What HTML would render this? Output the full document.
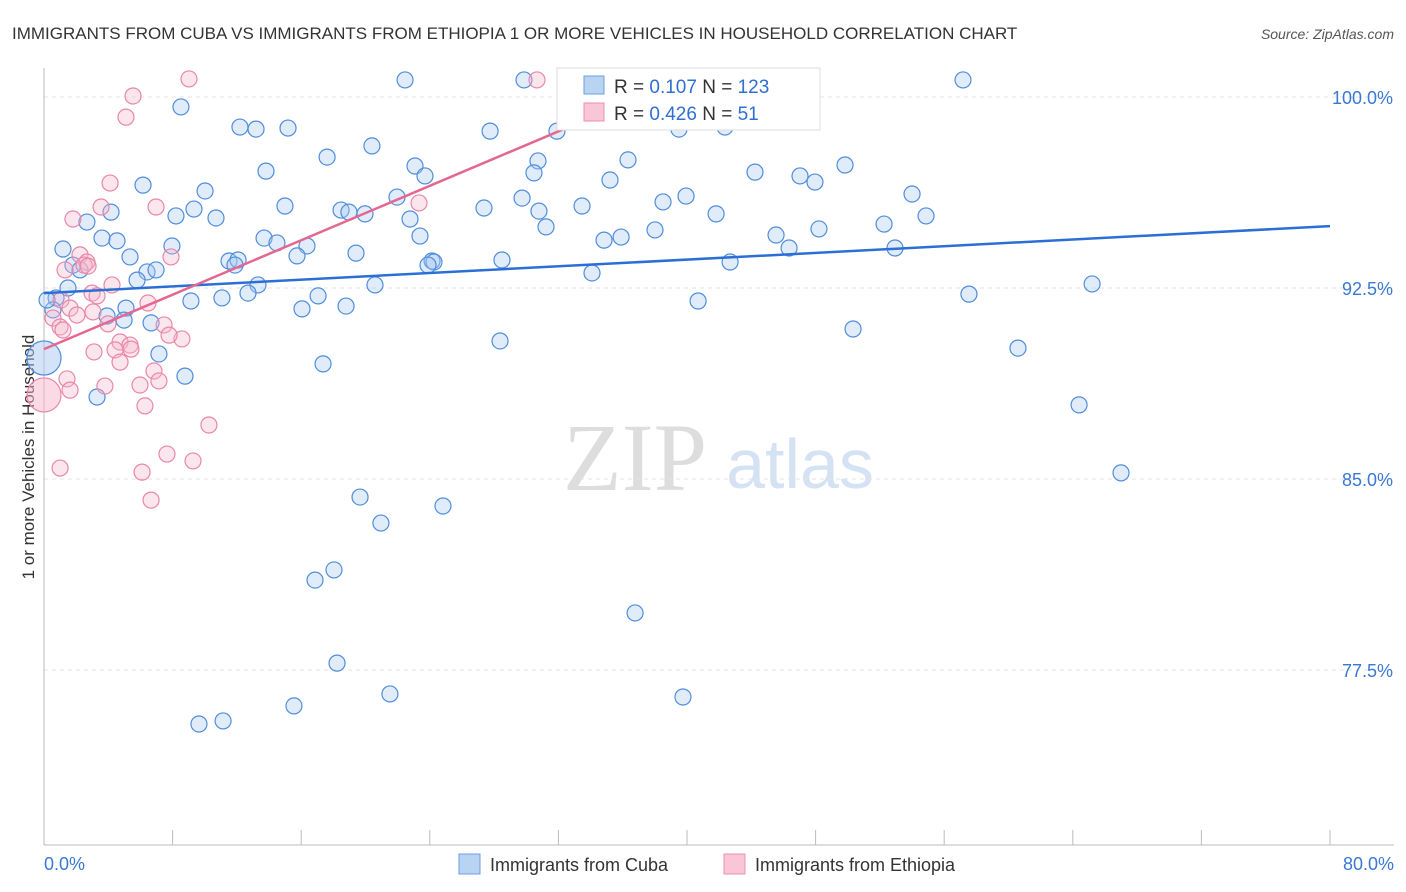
<!DOCTYPE html>
<html><head><meta charset="utf-8"><style>
body{margin:0;background:#fff;font-family:"Liberation Sans",sans-serif;}
svg{display:block}
</style></head><body>
<svg id="chart" width="1406" height="892">
<text x="12" y="39" font-size="17" fill="#333">IMMIGRANTS FROM CUBA VS IMMIGRANTS FROM ETHIOPIA 1 OR MORE VEHICLES IN HOUSEHOLD CORRELATION CHART</text>
<text x="1394" y="39" font-size="14" fill="#555" text-anchor="end" font-style="italic">Source: ZipAtlas.com</text>
<text x="34" y="457" font-size="17" fill="#333" text-anchor="middle" transform="rotate(-90 34 457)">1 or more Vehicles in Household</text>
<g><text x="635" y="490" font-size="96" fill="#ddd" font-family="Liberation Serif" text-anchor="middle">ZIP</text><text x="800" y="488" font-size="70" fill="#d4e2f4" text-anchor="middle">atlas</text></g>
<g id="grid"></g><g id="marks"></g><g id="trends"></g>
<g>
<rect x="557" y="68" width="263" height="62" fill="#fff" stroke="#ddd"/>
<rect x="584" y="76" width="20" height="18" fill="#b9d3f3" stroke="#6a9fe0"/>
<rect x="584" y="103" width="20" height="18" fill="#f9c6d6" stroke="#ec8fae"/>
<text x="614" y="93" font-size="19" fill="#333">R = <tspan fill="#2f6fd1">0.107</tspan>   N = <tspan fill="#2f6fd1">123</tspan></text>
<text x="614" y="120" font-size="19" fill="#333">R = <tspan fill="#2f6fd1">0.426</tspan>   N =   <tspan fill="#2f6fd1">51</tspan></text>
</g>
<g>
<rect x="459" y="854" width="21" height="20" fill="#b9d3f3" stroke="#6a9fe0"/>
<text x="490" y="871" font-size="18" fill="#333">Immigrants from Cuba</text>
<rect x="724" y="854" width="21" height="20" fill="#f9c6d6" stroke="#ec8fae"/>
<text x="755" y="871" font-size="18" fill="#333">Immigrants from Ethiopia</text>
</g>
<text x="44" y="870" font-size="18" fill="#3a78d4">0.0%</text>
<text x="1394" y="870" font-size="18" fill="#3a78d4" text-anchor="end">80.0%</text>
</svg>
<script>
const yTicks=[100,92.5,85,77.5];
const yTickLabels=["100.0%","92.5%","85.0%","77.5%"];
const xTicks=[0,8,16,24,32,40,48,56,64,72,80];
const cubaX=[22.46,29.86,57.17,8.52,12.19,13.19,15.18,27.75,31.91,39.5,42.36,20.4,17.61,36.33,30.73,23.08,13.81,23.7,30.48,44.23,49.83,47.03,47.96,35.21,6.16,10.02,21.96,29.74,39.94,54.0,14.99,18.48,9.33,4.17,8.21,10.7,18.97,19.97,27.37,33.47,38.51,41.81,54.87,22.77,30.79,2.67,31.23,52.26,38.01,48.21,3.61,4.54,13.69,14.49,16.36,23.39,34.84,35.9,45.54,1.18,7.96,19.41,15.74,5.35,11.51,12.07,11.88,1.8,2.24,6.41,6.97,24.14,28.49,34.09,42.68,46.35,52.94,13.31,20.59,5.79,1.49,0.75,11.07,9.14,12.69,17.05,65.2,57.54,40.69,0.56,5.1,16.05,18.79,3.92,4.98,6.66,7.15,28.37,50.33,60.59,17.36,8.77,3.3,64.39,67.0,19.66,24.82,20.96,18.04,16.86,36.77,18.23,21.52,39.75,15.55,9.64,11.14,24.26,23.89,0.19,0];
const cubaY=[100.67,100.67,100.67,99.61,98.82,98.74,98.78,98.66,98.66,98.74,98.82,98.08,97.64,97.53,97.49,97.29,97.09,96.9,97.02,97.05,97.33,96.9,96.66,96.74,96.54,96.31,96.07,96.03,96.11,96.19,95.72,95.56,95.6,95.48,95.33,95.25,95.48,95.41,95.64,95.72,95.88,95.41,95.33,95.21,95.52,95.09,94.9,95.01,94.78,94.82,94.46,94.35,94.46,94.27,94.15,94.54,94.38,94.5,94.58,94.03,94.15,93.87,93.76,93.72,93.56,93.6,93.4,93.4,93.21,93.13,93.21,93.56,93.6,93.09,93.52,94.07,94.07,92.62,92.62,92.81,92.5,92.11,92.11,91.99,92.3,92.19,92.66,92.26,91.99,91.64,91.71,91.68,91.79,91.4,91.24,91.13,89.91,90.42,90.89,90.14,89.52,89.04,88.22,87.91,85.24,84.29,83.94,83.27,81.43,81.03,79.74,77.77,76.56,76.44,76.09,75.38,75.5,93.52,93.4,92.03,89.75];
const ethX=[9.02,30.67,32.47,5.54,5.1,4.11,1.8,6.97,3.55,23.33,2.24,2.67,7.9,2.49,1.31,4.23,2.99,3.3,1.06,6.47,1.62,3.05,2.05,0.56,3.98,1.0,1.18,7.47,8.58,7.78,4.73,5.35,4.42,5.41,3.11,4.73,6.84,7.15,1.43,1.62,3.79,5.97,6.28,10.26,1.0,6.1,7.65,9.27,6.66,2.74,0];
const ethY=[100.71,100.67,100.75,100.04,99.21,96.62,95.21,95.68,95.68,95.84,93.8,93.52,93.72,93.4,93.21,92.62,92.3,92.19,92.03,91.91,91.71,91.56,91.44,91.32,91.09,90.97,90.85,91.05,90.5,90.65,90.38,90.26,90.07,90.1,89.99,89.59,89.24,88.85,88.93,88.49,88.65,88.69,87.87,87.12,85.43,85.27,85.98,85.71,84.17,93.36,88.3];
const cubaTrend=[92.30,94.93];
const ethTrend=[90.10,100.67,39.56];
const NS="http://www.w3.org/2000/svg";
const X=v=>44+v/80*1286, Y=v=>97+(100-v)/7.5*191;
function mk(t,a,p){const e=document.createElementNS(NS,t);for(const k in a)e.setAttribute(k,a[k]);p.appendChild(e);return e;}
const grid=document.getElementById('grid'),marks=document.getElementById('marks'),tr=document.getElementById('trends');
yTicks.forEach((v,i)=>{
 const l=mk('line',{x1:44,x2:1394,y1:Y(v),y2:Y(v),stroke:'#e3e3e3','stroke-dasharray':'4,4'},grid);
 
 
 const t=mk('text',{x:1393,y:Y(v)+7,'font-size':18,fill:'#3a78d4','text-anchor':'end'},grid);
 t.textContent=yTickLabels[i];
 
 
});
const ax=mk('line',{x1:44,x2:44,y1:68,y2:845,stroke:'#bbb'},grid);


const bx=mk('line',{x1:44,x2:1394,y1:845,y2:845,stroke:'#bbb'},grid);


xTicks.forEach(v=>{
 const l=mk('line',{x1:X(v),x2:X(v),y1:830,y2:845,stroke:'#bbb'},grid);
 
 
});
function pts(xs,ys,fill,stroke,name){
 xs.forEach((x,i)=>{
  const big=(x===0);
  const c=mk('circle',{cx:X(x),cy:Y(ys[i]),r:big?17:8,fill:fill,'fill-opacity':big?0.5:0.35,stroke:stroke,'stroke-width':1.2},marks);
  
  
 });
}
pts(cubaX,cubaY,'#a9c8f0','#4f8ddc','cuba-point');
pts(ethX,ethY,'#f7b6cb','#ea86a8','ethiopia-point');
const l1=mk('line',{x1:X(0),y1:Y(cubaTrend[0]),x2:X(80),y2:Y(cubaTrend[1]),stroke:'#2b6fd6','stroke-width':2.5},tr);


const l2=mk('line',{x1:X(0),y1:Y(ethTrend[0]),x2:X(ethTrend[2]),y2:Y(ethTrend[1]),stroke:'#e4678f','stroke-width':2.5},tr);


</script>
</body></html>
